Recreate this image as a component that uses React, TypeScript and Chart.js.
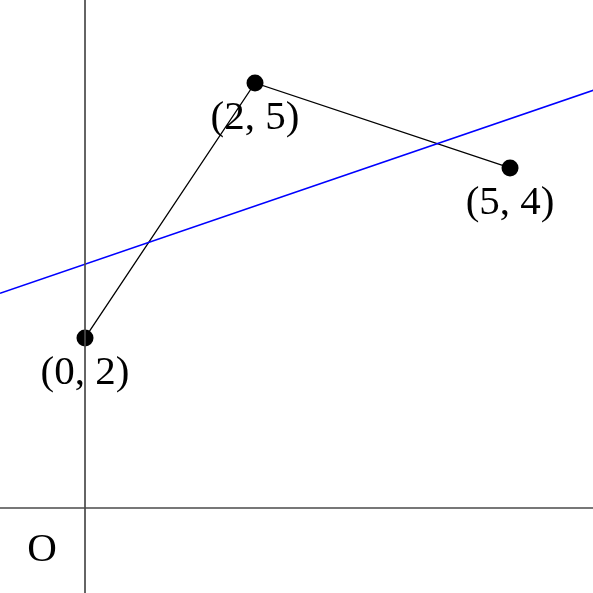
import React, { useEffect, useRef } from "react";
import { Chart, registerables } from "chart.js";

Chart.register(...registerables);

// Data
const pointXs = [0, 2, 5];
const pointYs = [2, 5, 4];
const fitLineXs = [-1, 6];
const fitLineYs = [2.526, 4.921];
const axisRange = [-1, 6];
const originLabel = "O";

const X_MIN = -1;
const X_MAX = 5.976;
const Y_MIN = -1;
const Y_MAX = 5.976;

const FONT = "41px 'Liberation Serif', 'Times New Roman', serif";

const labelPlugin = {
  id: "pointLabels",
  afterDatasetsDraw(chart: any) {
    const { ctx, scales } = chart;
    const xs = scales.x;
    const ys = scales.y;
    ctx.save();
    ctx.font = FONT;
    ctx.fillStyle = "#000";
    ctx.textAlign = "center";
    ctx.textBaseline = "alphabetic";
    pointXs.forEach((x, i) => {
      const px = xs.getPixelForValue(x);
      const py = ys.getPixelForValue(pointYs[i]);
      ctx.fillText(`(${x}, ${pointYs[i]})`, px, py + 46);
    });
    const ox = xs.getPixelForValue(0);
    const oy = ys.getPixelForValue(0);
    ctx.fillText(originLabel, ox - 43, oy + 53);
    ctx.restore();
  },
};

export default function App() {
  const ref = useRef<HTMLCanvasElement | null>(null);

  useEffect(() => {
    document.body.style.margin = "0";
    const canvas = ref.current;
    if (!canvas) return;
    const chart = new Chart(canvas, {
      type: "scatter",
      data: {
        datasets: [
          {
            data: axisRange.map((v) => ({ x: v, y: 0 })),
            showLine: true,
            borderColor: "#4a4a4a",
            borderWidth: 1.7,
            pointRadius: 0,
          },
          {
            data: axisRange.map((v) => ({ x: 0, y: v })),
            showLine: true,
            borderColor: "#4a4a4a",
            borderWidth: 1.7,
            pointRadius: 0,
          },
          {
            data: fitLineXs.map((x, i) => ({ x, y: fitLineYs[i] })),
            showLine: true,
            borderColor: "#0000ff",
            borderWidth: 1.6,
            pointRadius: 0,
          },
          {
            data: pointXs.map((x, i) => ({ x, y: pointYs[i] })),
            showLine: true,
            borderColor: "#000000",
            borderWidth: 1.3,
            pointRadius: 8.5,
            pointBackgroundColor: "#000000",
            pointBorderColor: "#000000",
            pointBorderWidth: 0,
          },
        ],
      },
      options: {
        animation: false,
        responsive: false,
        devicePixelRatio: 1,
        layout: { padding: 0, autoPadding: false },
        plugins: {
          legend: { display: false },
          tooltip: { enabled: false },
        },
        events: [],
        scales: {
          x: { type: "linear", min: X_MIN, max: X_MAX, display: false },
          y: { type: "linear", min: Y_MIN, max: Y_MAX, display: false },
        },
      },
      plugins: [labelPlugin],
    });
    return () => chart.destroy();
  }, []);

  return (
    <div style={{ position: "fixed", left: 0, top: 0, width: 593, height: 593, background: "#fff" }}>
      <canvas ref={ref} width={593} height={593} style={{ width: 593, height: 593, display: "block" }} />
    </div>
  );
}
